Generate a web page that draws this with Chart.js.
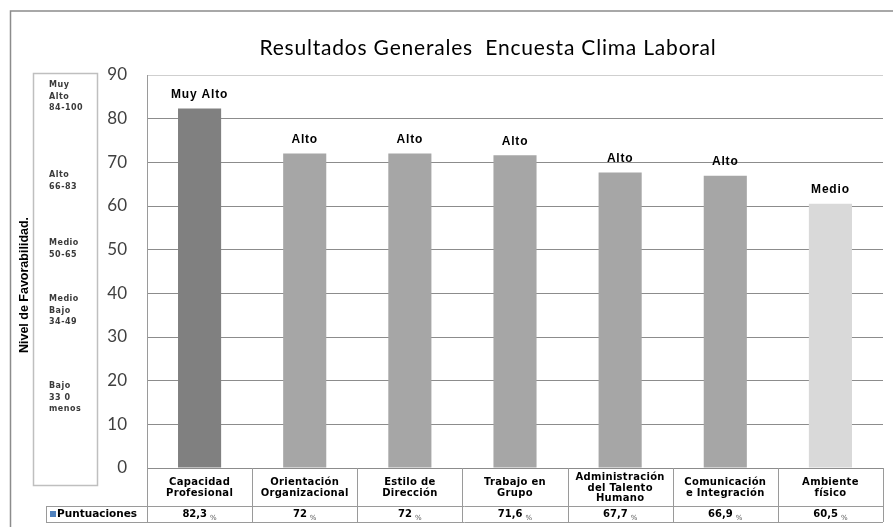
<!DOCTYPE html>
<html>
<head>
<meta charset="utf-8">
<script src="https://cdn.jsdelivr.net/npm/chart.js@4"></script>
<style>
  html, body { margin: 0; padding: 0; background: #fff; }
  #wrap { width: 893px; height: 527px; }
</style>
</head>
<body>
<div id="wrap"><canvas id="grafico" width="893" height="527"></canvas></div>
<script>
const categorias = [
    ['Capacidad', 'Profesional'],
    ['Orientación', 'Organizacional'],
    ['Estilo de', 'Dirección'],
    ['Trabajo en', 'Grupo'],
    ['Administración', 'del Talento', 'Humano'],
    ['Comunicación', 'e Integración'],
    ['Ambiente', 'físico']
];
const puntuaciones = [82.3, 72, 72, 71.6, 67.7, 66.9, 60.5];
const niveles = ['Muy Alto', 'Alto', 'Alto', 'Alto', 'Alto', 'Alto', 'Medio'];
const coloresBarra = ['#808080', '#a6a6a6', '#a6a6a6', '#a6a6a6', '#a6a6a6', '#a6a6a6', '#d9d9d9'];
const rangos = [
    ['Muy', 'Alto', '84-100'],
    ['Alto', '66-83'],
    ['Medio', '50-65'],
    ['Medio', 'Bajo', '34-49'],
    ['Bajo', '33 0', 'menos']
];
const ejeY = { min: 0, max: 90, paso: 10 };
const titulo = 'Resultados Generales  Encuesta Clima Laboral';
const tituloEjeY = 'Nivel de Favorabilidad.';
const nombreSerie = 'Puntuaciones';

// vertical start of each range text block in the left box
const rangoY = [85, 175, 243, 299, 386];

const decorado = {
    id: 'decorado',
    beforeDraw(chart) {
        const ctx = chart.ctx;
        ctx.save();
        ctx.fillStyle = '#fff';
        ctx.fillRect(0, 0, chart.width, chart.height);
        ctx.restore();
    },
    afterDraw(chart) {
        const { ctx, chartArea: a } = chart;
        const xs = chart.scales.x;
        const n = categorias.length;
        const w = (a.right - a.left) / n;
        const filaFin = 506;
        const tablaFin = 522;

        ctx.save();

        // outer frame
        ctx.strokeStyle = '#8c8c8c';
        ctx.lineWidth = 1.5;
        ctx.beginPath();
        ctx.moveTo(10.5, chart.height);
        ctx.lineTo(10.5, 11);
        ctx.lineTo(chart.width, 11);
        ctx.stroke();

        // title
        ctx.fillStyle = '#000';
        ctx.font = '21px Lato';
        ctx.letterSpacing = '0.8px';
        ctx.textAlign = 'center';
        ctx.textBaseline = 'middle';
        ctx.fillText(titulo, 488, 48);
        ctx.letterSpacing = '0px';

        // legend box of ranges
        ctx.strokeStyle = '#bfbfbf';
        ctx.lineWidth = 1.5;
        ctx.strokeRect(33.5, 73.5, 64, 412);
        ctx.fillStyle = '#3a3a3a';
        ctx.font = 'bold 8px "DejaVu Sans"';
        ctx.textAlign = 'left';
        ctx.letterSpacing = '0.5px';
        rangos.forEach((lineas, i) => {
            lineas.forEach((t, j) => ctx.fillText(t, 49, rangoY[i] + j * 11.5));
        });
        ctx.letterSpacing = '0px';

        // y axis title
        ctx.save();
        ctx.translate(25, 285);
        ctx.rotate(-Math.PI / 2);
        ctx.textAlign = 'center';
        ctx.fillStyle = '#000';
        ctx.font = 'bold 12.5px "Liberation Sans Narrow", "Liberation Sans"';
        ctx.fillText(tituloEjeY, 0, 0);
        ctx.restore();

        // labels above bars
        const meta = chart.getDatasetMeta(0);
        ctx.fillStyle = '#000';
        ctx.font = 'bold 12px "Liberation Sans"';
        ctx.textAlign = 'center';
        ctx.letterSpacing = '0.8px';
        meta.data.forEach((bar, i) => {
            ctx.fillText(niveles[i], bar.x, bar.y - 14);
        });
        ctx.letterSpacing = '0px';

        // data table lines
        ctx.strokeStyle = '#9a9a9a';
        ctx.lineWidth = 1;
        ctx.beginPath();
        ctx.moveTo(a.left + 0.5, a.top);
        ctx.lineTo(a.left + 0.5, tablaFin);
        for (let i = 1; i <= n; i++) {
            const xx = Math.round(a.left + i * w) + 0.5;
            ctx.moveTo(xx, a.bottom);
            ctx.lineTo(xx, tablaFin);
        }
        ctx.moveTo(46, filaFin + 0.5);
        ctx.lineTo(a.right, filaFin + 0.5);
        ctx.moveTo(46, tablaFin + 0.5);
        ctx.lineTo(a.right, tablaFin + 0.5);
        ctx.moveTo(46.5, filaFin);
        ctx.lineTo(46.5, tablaFin);
        ctx.stroke();

        // category names, centred in the first table row
        ctx.fillStyle = '#000';
        ctx.font = 'bold 10px "DejaVu Sans"';
        ctx.textAlign = 'center';
        ctx.letterSpacing = '0.3px';
        const altoLinea = 10.5;
        const medio = (a.bottom + filaFin) / 2 + 1;
        categorias.forEach((lineas, i) => {
            const cx = xs.getPixelForValue(i);
            const y0 = medio - (lineas.length - 1) * altoLinea / 2;
            lineas.forEach((t, j) => ctx.fillText(t, cx, y0 + j * altoLinea));
        });
        ctx.letterSpacing = '0px';

        // series key
        ctx.fillStyle = '#4f81bd';
        ctx.fillRect(50, 511, 6, 6);
        ctx.fillStyle = '#000';
        ctx.font = 'bold 10.5px "DejaVu Sans"';
        ctx.textAlign = 'left';
        ctx.fillText(nombreSerie, 57, 514.5);

        // value row
        const fuenteValor = 'bold 10px "DejaVu Sans"';
        const fuentePct = '7px "DejaVu Sans"';
        puntuaciones.forEach((v, i) => {
            const cx = xs.getPixelForValue(i);
            const txt = String(v).replace('.', ',');
            ctx.font = fuenteValor;
            const w1 = ctx.measureText(txt).width;
            ctx.font = fuentePct;
            const w2 = ctx.measureText('%').width;
            const x0 = cx - (w1 + 3 + w2) / 2;
            ctx.textAlign = 'left';
            ctx.font = fuenteValor;
            ctx.fillStyle = '#000';
            ctx.fillText(txt, x0, 514);
            ctx.font = fuentePct;
            ctx.fillStyle = '#555';
            ctx.fillText('%', x0 + w1 + 3, 518);
        });

        ctx.restore();
    }
};

new Chart(document.getElementById('grafico'), {
    type: 'bar',
    data: {
        labels: categorias,
        datasets: [{
            label: nombreSerie,
            data: puntuaciones,
            backgroundColor: coloresBarra,
            borderWidth: 0,
            barPercentage: 0.41,
            categoryPercentage: 1
        }]
    },
    options: {
        responsive: false,
        animation: false,
        devicePixelRatio: 1,
        layout: { padding: { left: 0, top: 75, right: 10, bottom: 5 } },
        plugins: {
            legend: { display: false },
            title: { display: false },
            tooltip: { enabled: false }
        },
        scales: {
            x: {
                grid: { display: false, drawTicks: false },
                border: { display: false },
                afterFit(scale) { scale.height = 54; },
                ticks: { display: false }
            },
            y: {
                min: ejeY.min,
                max: ejeY.max,
                afterFit(scale) { scale.width = 147; },
                border: { display: false },
                grid: {
                    drawTicks: false,
                    color: ctx => ctx.tick && ctx.tick.value === ejeY.max ? '#cfcfcf' : '#8c8c8c',
                    lineWidth: 1
                },
                ticks: {
                    stepSize: ejeY.paso,
                    padding: 20,
                    color: '#404040',
                    font: { family: 'Lato', size: 17 }
                }
            }
        }
    },
    plugins: [decorado]
});
</script>
</body>
</html>
